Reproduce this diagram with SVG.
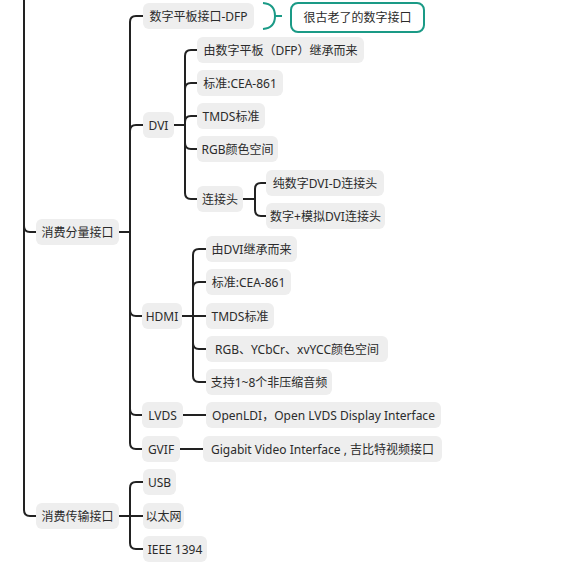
<svg xmlns="http://www.w3.org/2000/svg" width="577" height="565" viewBox="0 0 577 565">
<style>
.n rect{fill:#eeeeee;}
.n text{font-family:"Noto Sans","Noto Sans CJK SC",sans-serif;font-size:12px;fill:#2b2b2b;text-anchor:middle;}
.c path{fill:none;stroke:#222;stroke-width:2;stroke-linecap:round;}
.t path{fill:none;stroke:#1a9a86;stroke-width:2;}
</style>
<rect width="577" height="565" fill="#ffffff"/>
<g id="connectors" class="c">
<path d="M24 0 L24 510 Q24 516 30 516 L36 516"/>
<path d="M24 226 Q24 232 30 232 L36 232"/>
<path d="M119 232 L130 232 L130 22 Q130 16 136 16 L143 16"/>
<path d="M130 232 L130 131 Q130 125 136 125 L143 125"/>
<path d="M130 232 L130 310 Q130 316 136 316 L142 316"/>
<path d="M130 232 L130 409 Q130 415 136 415 L142 415"/>
<path d="M130 232 L130 443 Q130 449 136 449 L142 449"/>
<path d="M174 125 L185 125 L185 56 Q185 50 191 50 L197 50"/>
<path d="M185 125 L185 89 Q185 83 191 83 L197 83"/>
<path d="M185 125 L185 122 Q185 116 191 116 L197 116"/>
<path d="M185 125 L185 143 Q185 149 191 149 L197 149"/>
<path d="M185 125 L185 193 Q185 199 191 199 L197 199"/>
<path d="M243 199 L255 199 L255 189 Q255 183 261 183 L266 183"/>
<path d="M255 199 L255 210 Q255 216 261 216 L266 216"/>
<path d="M182 316 L193 316 L193 255 Q193 249 199 249 L206 249"/>
<path d="M193 316 L193 288 Q193 282 199 282 L206 282"/>
<path d="M193 316 L206 316"/>
<path d="M193 316 L193 343 Q193 349 199 349 L206 349"/>
<path d="M193 316 L193 376 Q193 382 199 382 L206 382"/>
<path d="M183 415 L206 415"/>
<path d="M180 449 L203 449"/>
<path d="M119 516 L130 516 L130 488 Q130 482 136 482 L143 482"/>
<path d="M130 516 L143 516"/>
<path d="M130 516 L130 543 Q130 549 136 549 L143 549"/>
</g>
<g id="callout-bracket" class="t">
<path d="M263 3 Q275 4 275 16 Q275 28 263 29"/>
<path d="M275 16 L282 16"/>
</g>
<g id="callout">
<rect x="291" y="3" width="133" height="29" rx="7" fill="#ffffff" stroke="#1a9a86" stroke-width="2"/>
<text x="357.5" y="21.5" font-family="Noto Sans CJK SC,sans-serif" font-size="12" fill="#2b2b2b" text-anchor="middle">很古老了的数字接口</text>
</g>
<g id="n1" class="n"><rect x="36" y="219" width="83" height="26" rx="6"/><text x="77.5" y="236.5">消费分量接口</text></g>
<g id="n2" class="n"><rect x="36" y="503" width="83" height="26" rx="6"/><text x="77.5" y="520.5">消费传输接口</text></g>
<g id="dfp" class="n"><rect x="143" y="3" width="111" height="26" rx="6"/><text x="198.5" y="20.5">数字平板接口-DFP</text></g>
<g id="dvi" class="n"><rect x="143" y="112" width="31" height="26" rx="6"/><text x="158.5" y="129.5">DVI</text></g>
<g id="hdmi" class="n"><rect x="142" y="303" width="40" height="26" rx="6"/><text x="162" y="320.5">HDMI</text></g>
<g id="lvds" class="n"><rect x="142" y="402" width="41" height="26" rx="6"/><text x="162.5" y="419.5">LVDS</text></g>
<g id="gvif" class="n"><rect x="142" y="436" width="38" height="26" rx="6"/><text x="161" y="453.5">GVIF</text></g>
<g id="dvi1" class="n"><rect x="197" y="37" width="167" height="26" rx="6"/><text x="280.5" y="54.5">由数字平板（DFP）继承而来</text></g>
<g id="dvi2" class="n"><rect x="197" y="70" width="86" height="26" rx="6"/><text x="240" y="87.5">标准:CEA-861</text></g>
<g id="dvi3" class="n"><rect x="197" y="103" width="68" height="26" rx="6"/><text x="231" y="120.5">TMDS标准</text></g>
<g id="dvi4" class="n"><rect x="197" y="136" width="81" height="26" rx="6"/><text x="237.5" y="153.5">RGB颜色空间</text></g>
<g id="dvi5" class="n"><rect x="197" y="186" width="46" height="26" rx="6"/><text x="220" y="203.5">连接头</text></g>
<g id="c1" class="n"><rect x="266" y="170" width="118" height="26" rx="6"/><text x="325" y="187.5">纯数字DVI-D连接头</text></g>
<g id="c2" class="n"><rect x="266" y="203" width="119" height="26" rx="6"/><text x="325.5" y="220.5">数字+模拟DVI连接头</text></g>
<g id="h1" class="n"><rect x="206" y="236" width="91" height="26" rx="6"/><text x="251.5" y="253.5">由DVI继承而来</text></g>
<g id="h2" class="n"><rect x="206" y="269" width="85" height="26" rx="6"/><text x="248.5" y="286.5">标准:CEA-861</text></g>
<g id="h3" class="n"><rect x="206" y="303" width="68" height="26" rx="6"/><text x="240" y="320.5">TMDS标准</text></g>
<g id="h4" class="n"><rect x="206" y="336" width="182" height="26" rx="6"/><text x="297" y="353.5">RGB、YCbCr、xvYCC颜色空间</text></g>
<g id="h5" class="n"><rect x="206" y="369" width="126" height="26" rx="6"/><text x="269" y="386.5">支持1~8个非压缩音频</text></g>
<g id="l1" class="n"><rect x="206" y="402" width="235" height="26" rx="6"/><text x="323.5" y="419.5">OpenLDI，Open LVDS Display Interface</text></g>
<g id="g1" class="n"><rect x="203" y="436" width="239" height="26" rx="6"/><text x="322.5" y="453.5">Gigabit Video Interface , 吉比特视频接口</text></g>
<g id="u1" class="n"><rect x="143" y="469" width="33" height="26" rx="6"/><text x="159.5" y="486.5">USB</text></g>
<g id="u2" class="n"><rect x="143" y="503" width="41" height="26" rx="6"/><text x="163.5" y="520.5">以太网</text></g>
<g id="u3" class="n"><rect x="143" y="536" width="64" height="26" rx="6"/><text x="175" y="553.5">IEEE 1394</text></g>
</svg>
